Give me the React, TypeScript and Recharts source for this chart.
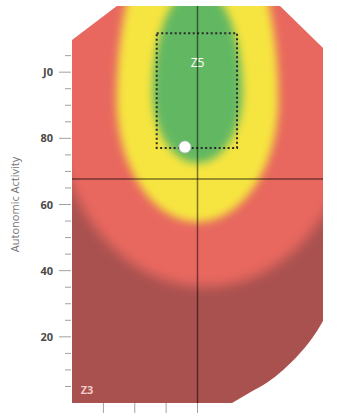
import React from 'react';
import {
  ComposedChart,
  XAxis,
  YAxis,
  ReferenceArea,
  ReferenceLine,
  Area,
  Scatter,
} from 'recharts';

// axis ticks
const yTicks = [5, 10, 15, 20, 25, 30, 35, 40, 45, 50, 55, 60, 65, 70, 75, 80, 85, 90, 95, 100, 105];
const yTickLabels: Record<number, string> = { 20: '20', 40: '40', 60: '60', 80: '80', 100: 'J0' };
const xTicks = [-3, -2, -1, 0];

// zones, outer to inner (egg shaped, widest at zoneWidest)
const zoneNames = ['red', 'yellow', 'green'];
const zoneLeft = [-4.54, -2.58, -1.43];
const zoneRight = [5.02, 2.58, 1.43];
const zoneTop = [182, 152.7, 126];
const zoneBottom = [35.1, 54.7, 72.5];
const zoneWidest = [91.0, 91.6, 93.7];

// target box and current reading
const targetX = [-1.3, 1.26];
const targetY = [77.1, 111.8];
const current = [{ x: -0.4, y: 77.4 }];
const crossX = 0;
const crossY = 67.7;

const zoneLabels = [
  { x: 0, y: 102.8, text: 'Z5' },
  { x: -3.52, y: 3.9, text: 'Z3' },
];

// corners cut out of the plot
const topLeftCut = [
  { x: -4, y: 109.7 },
  { x: -2.57, y: 120 },
];
const topRightCut = [
  { x: 2.63, y: 120 },
  { x: 3.97, y: 107.6 },
  { x: 4, y: 107.3 },
];
const bottomRightCut = [
  { x: 1.1, y: 0 },
  { x: 1.67, y: 3.2 },
  { x: 2.22, y: 6.2 },
  { x: 2.73, y: 10.0 },
  { x: 3.27, y: 15.1 },
  { x: 3.81, y: 21.8 },
  { x: 4, y: 24.8 },
];

const zoneColors: Record<string, string> = {
  red: '#e8685f',
  yellow: '#f6e540',
  green: '#62b862',
};
const zoneBlur: Record<string, number> = { red: 6, yellow: 4, green: 4 };
const baseColor = '#a9514f';

function PlotBase(props: any) {
  const { x, y, width, height } = props;
  if (width == null || height == null) return null;
  return (
    <g>
      <defs>
        <clipPath id="plot-clip">
          <rect x={x} y={y} width={width} height={height} />
        </clipPath>
      </defs>
      <rect x={x} y={y} width={width} height={height} fill={baseColor} />
    </g>
  );
}

function Egg(props: any) {
  const { x, y, width, height, frac, name } = props;
  if (width == null || height == null) return null;
  const midY = y + frac * height;
  const rx = width / 2;
  const rt = midY - y;
  const rb = y + height - midY;
  const d = `M ${x} ${midY} A ${rx} ${rt} 0 0 1 ${x + width} ${midY} A ${rx} ${rb} 0 0 1 ${x} ${midY} Z`;
  const id = `blur-${name}`;
  return (
    <g clipPath="url(#plot-clip)">
      <defs>
        <filter id={id} x="-20%" y="-20%" width="140%" height="140%">
          <feGaussianBlur stdDeviation={zoneBlur[name]} />
        </filter>
      </defs>
      <path d={d} fill={zoneColors[name]} filter={`url(#${id})`} />
    </g>
  );
}

function YTick(props: any) {
  const { x, y, payload } = props;
  const label = yTickLabels[payload.value];
  const major = label !== undefined;
  return (
    <g>
      <line x1={x - (major ? 13 : 7)} x2={x - 1} y1={y} y2={y} stroke="#a0a0a0" strokeWidth={1} />
      {major && (
        <text x={x - 19} y={y} dy={4} textAnchor="end" fontSize={11} fontWeight={700} fill="#4a4a4a" fontFamily="Open Sans, sans-serif">
          {label}
        </text>
      )}
    </g>
  );
}

function XTick(props: any) {
  const { x, y } = props;
  return <line x1={x} x2={x} y1={y} y2={y + 10} stroke="#a0a0a0" strokeWidth={1} />;
}

function AxisTitle(props: any) {
  const vb = props.viewBox || {};
  const cx = 19;
  const cy = (vb.y ?? 0) + (vb.height ?? 0) / 2;
  return (
    <text
      x={cx}
      y={cy}
      transform={`rotate(-90 ${cx} ${cy})`}
      textAnchor="middle"
      fontSize={11}
      fill="#777"
      fontFamily="Open Sans, sans-serif"
    >
      Autonomic Activity
    </text>
  );
}

function ZoneLabel(props: any) {
  const { cx, cy, payload } = props;
  const light = payload.text === 'Z5';
  return (
    <text x={cx} y={cy} dy={4} textAnchor="middle" fontSize={light ? 12 : 11} fontWeight={light ? 400 : 700}
      fill={light ? '#ffffff' : '#f2c9c6'} fontFamily="Open Sans, sans-serif">
      {payload.text}
    </text>
  );
}

function CurrentDot(props: any) {
  const { cx, cy } = props;
  return <circle cx={cx} cy={cy} r={6} fill="#ffffff" stroke="#bbbbbb" strokeWidth={0.8} />;
}

export default function App() {
  return (
    <div style={{ position: 'absolute', left: 0, top: 0, background: '#fff' }}>
      <ComposedChart width={354} height={416} margin={{ top: 6, right: 31, bottom: 0, left: 0 }}>
        <XAxis
          type="number"
          dataKey="x"
          domain={[-4, 4]}
          allowDataOverflow
          ticks={xTicks}
          tick={<XTick />}
          tickSize={0}
          tickMargin={0}
          tickLine={false}
          axisLine={false}
          height={13}
        />
        <YAxis
          type="number"
          dataKey="y"
          domain={[0, 120]}
          allowDataOverflow
          ticks={yTicks}
          tick={<YTick />}
          tickSize={0}
          tickMargin={0}
          tickLine={false}
          axisLine={false}
          width={72}
          interval={0}
          label={<AxisTitle />}
        />
        <ReferenceArea
          x1={-4}
          x2={4}
          y1={0}
          y2={120}
          ifOverflow="visible"
          zIndex={10}
          shape={(p: any) => <PlotBase {...p} />}
        />
        {zoneNames.map((name, i) => (
          <ReferenceArea
            key={name}
            x1={zoneLeft[i]}
            x2={zoneRight[i]}
            y1={zoneBottom[i]}
            y2={zoneTop[i]}
            ifOverflow="visible"
            zIndex={20 + i}
            shape={(p: any) => (
              <Egg {...p} name={name} frac={(zoneTop[i] - zoneWidest[i]) / (zoneTop[i] - zoneBottom[i])} />
            )}
          />
        ))}
        <Area data={topLeftCut} dataKey="y" type="linear" baseValue={120} fill="#fff" fillOpacity={1} stroke="none" zIndex={40} isAnimationActive={false} dot={false} activeDot={false} />
        <Area data={topRightCut} dataKey="y" type="linear" baseValue={120} fill="#fff" fillOpacity={1} stroke="none" zIndex={40} isAnimationActive={false} dot={false} activeDot={false} />
        <Area data={bottomRightCut} dataKey="y" type="monotone" baseValue={0} fill="#fff" fillOpacity={1} stroke="none" zIndex={40} isAnimationActive={false} dot={false} activeDot={false} />
        <ReferenceArea
          x1={targetX[0]}
          x2={targetX[1]}
          y1={targetY[0]}
          y2={targetY[1]}
          fill="none"
          stroke="#2b2b2b"
          strokeWidth={2}
          strokeDasharray="2 2.5"
          ifOverflow="hidden"
          zIndex={50}
        />
        <ReferenceLine y={crossY} stroke="#000" strokeOpacity={0.5} strokeWidth={1.5} zIndex={60} />
        <ReferenceLine x={crossX} stroke="#000" strokeOpacity={0.5} strokeWidth={1.5} zIndex={60} />
        <Scatter data={zoneLabels} dataKey="y" shape={<ZoneLabel />} isAnimationActive={false} zIndex={70} />
        <Scatter data={current} dataKey="y" shape={<CurrentDot />} isAnimationActive={false} zIndex={70} />
      </ComposedChart>
    </div>
  );
}
